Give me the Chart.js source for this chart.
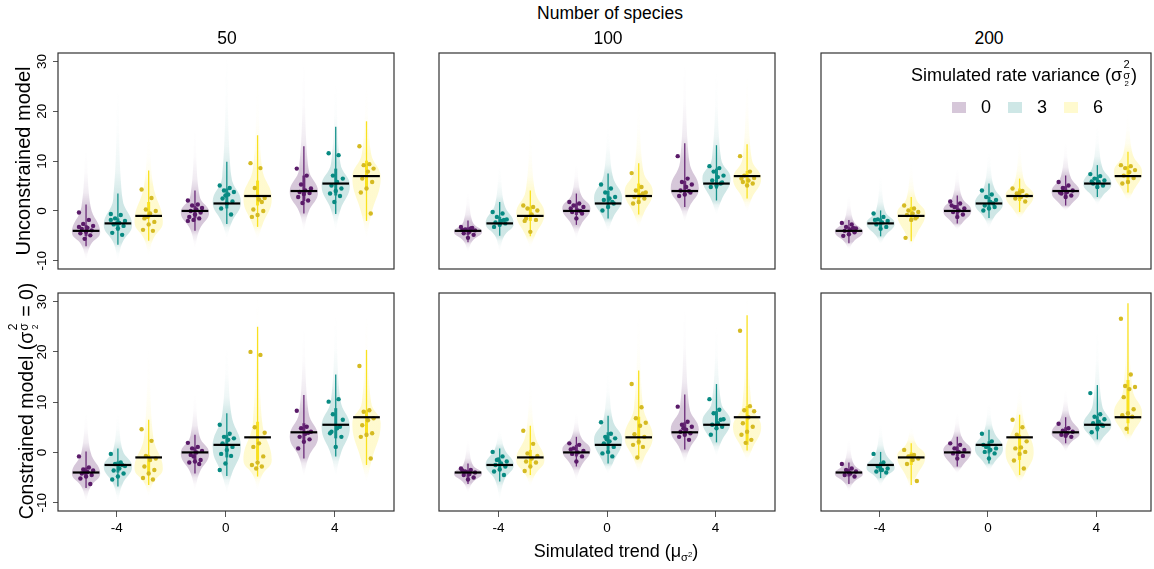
<!DOCTYPE html>
<html>
<head>
<meta charset="utf-8">
<script src="https://cdn.jsdelivr.net/npm/chart.js@4.4.1/dist/chart.umd.min.js"></script>
<style>
  body { margin: 0; background: #fff; overflow: hidden; }
  #wrap { position: relative; width: 1154px; height: 569px; overflow: hidden;
          font-family: "Liberation Sans", Arial, sans-serif; color: #000; }
  #wrap canvas { position: absolute; }
  .t { position: absolute; white-space: nowrap; transform: translate(-50%, -50%); line-height: 1.15; }
  .rot { transform: translate(-50%, -50%) rotate(-90deg); }
  .stk { display: inline-block; vertical-align: -0.4em; font-size: 0.62em; line-height: 0.95; text-align: center; margin: 0 1px; }
  .stk span { display: block; }
  .tiny { font-size: 0.7em; vertical-align: 0.45em; }
  .sub { font-size: 0.62em; vertical-align: -0.35em; }
  .sq { position: absolute; width: 14px; height: 11px; }
</style>
</head>
<body>
<div id="wrap">
  <div class="t" style="left:610px;top:13px;font-size:17.5px">Number of species</div>
  <div id="heads"></div>
  <div class="t rot" style="left:23px;top:161px;font-size:20px">Unconstrained model</div>
  <div class="t rot" style="left:23px;top:401px;font-size:19.5px">Constrained model (σ<span class="stk"><span>2</span><span>σ<span class="tiny">2</span></span></span> = 0)</div>
  <div class="t" style="left:616px;top:552px;font-size:18px">Simulated trend (μ<span class="sub">σ<span class="tiny">2</span></span>)</div>
</div>
<script>
// what the plot shows
const speciesCounts = [50, 100, 200];
const trends = [-4, 0, 4];
const variances = [0, 3, 6];
const trueValues = [-4, -2.5, -1, 0, 1.5, 3, 4, 5.5, 7];
const yTicks = [-10, 0, 10, 20, 30];

// violins, in order (-4: 0,3,6), (0: 0,3,6), (4: 0,3,6)
// [tail low, body low, mode, body high, tail high]
const u50Violin = [
  [-9.8, -6.8, -4.3, 0.8, 12.4], [-9.8, -6.3, -2.8, 2.4, 25], [-9, -5.6, -2.2, 5, 15],
  [-7.5, -3.7, -0.3, 3, 16.4], [-5.5, -2.4, 1.8, 6.8, 31.7], [-5.8, -2.9, 2.5, 8.5, 25],
  [-4, -0.2, 3.8, 8.5, 30], [-4, 0.2, 5.1, 9.6, 26], [-5.5, -0.8, 6.8, 11.5, 25]
];
const c50Violin = [
  [-9.8, -6.8, -4.2, 0, 7.8], [-9.8, -6.3, -2.8, 0.5, 7.8], [-8.8, -6, -3.2, 3, 21],
  [-7.5, -4, -0.2, 3.2, 11.8], [-8, -4.5, 1.1, 7.5, 21], [-7.5, -4.5, -1.5, 6, 31.7],
  [-4.8, -1, 3.1, 8, 25], [-4.8, -0.5, 5.1, 10.5, 27.7], [-6, -2, 5.8, 10, 27.7]
];
const u100Violin = [
  [-8.2, -6, -4.2, -2.2, 3.8], [-8.2, -5, -2.5, 1.3, 9.1], [-7.5, -5, -0.5, 4, 16.4],
  [-5.5, -2.8, 0.5, 3.3, 9.4], [-4.2, -1.5, 2.5, 7, 17], [-3.5, -0.7, 3.8, 8, 22.4],
  [-2.2, 0.8, 4.5, 10, 30], [-0.8, 2, 6.5, 10.5, 28.4], [-0.2, 2.5, 6.5, 10.5, 27.7]
];
const c100Violin = [
  [-8, -6, -4.2, -2.4, 2.5], [-9.5, -5.5, -2.5, 0.8, 4.5], [-6.8, -4.5, -1.5, 3.5, 13.7],
  [-5.5, -2.8, 0.5, 3.1, 7.8], [-4.2, -2.2, 2.5, 6.5, 15.8], [-4.2, -1.5, 3.1, 9, 28.4],
  [-2.2, 0.6, 4.5, 9, 29], [-0.8, 2, 6.2, 10, 25.7], [-1.8, 0.5, 5.1, 9.5, 31.7]
];
const u200Violin = [
  [-7.8, -6.2, -4.2, -2, 3.1], [-6.8, -5, -2.5, 0, 7.1], [-7.5, -5, -0.5, 2.6, 9.8],
  [-3.8, -2.5, 0.1, 2.8, 8.5], [-3.5, -1.4, 1.5, 5, 11.8], [-1.8, -0.2, 3.1, 6, 14.4],
  [0, 1.1, 3.8, 7, 13.8], [1.2, 2.8, 5.5, 9, 17], [1.8, 3.7, 7.8, 11.5, 19.7]
];
const c200Violin = [
  [-7.8, -6, -4.2, -2.2, 2.5], [-6.8, -5, -3, 0, 5.8], [-7.8, -5, -0.8, 1.8, 5.1],
  [-4.2, -2.8, 0.3, 3, 7.8], [-3.8, -2.2, 0.8, 4.3, 9.8], [-6.2, -4.5, 0.1, 6, 13.1],
  [0.1, 1.8, 3.8, 7, 12.4], [0.8, 2.6, 5.5, 9.5, 24.4], [1.8, 3.7, 7.8, 12.5, 31.7]
];

// intervals: [outer low, inner low, inner high, outer high]
const u50Whisker = [
  [-7.1, -5, -2.8, 1.3], [-6.8, -4, -1.5, 3.5], [-6, -1.5, 1.8, 8.1],
  [-4, -1.5, 1, 4.1], [-2.6, 0.5, 4.5, 9.9], [-3.2, 1.1, 6.1, 15.2],
  [-0.5, 2, 7.1, 13], [-0.6, 3.1, 8.5, 16.9], [-2, 4.5, 10.1, 18]
];
const c50Whisker = [
  [-7.1, -5, -3, 0.2], [-6.8, -4, -1.8, 0.8], [-6.5, -4.5, -0.5, 6.5],
  [-4.2, -1.5, 1, 3.5], [-4.7, -1, 3.5, 7.8], [-4.8, -1.5, 6.1, 25],
  [-1.2, 2.2, 5.8, 11.4], [-0.8, 2.8, 8.8, 15.5], [-2.5, 3.1, 8.4, 20.4]
];
const u100Whisker = [
  [-6.3, -4.8, -3.3, -1.9], [-5, -3.2, -1.2, 1.8], [-5.1, -2, 0.8, 4.1],
  [-2.8, -0.8, 1.5, 3.5], [-1.5, 0.8, 4, 7.5], [-0.7, 2, 5.5, 9.6],
  [0.8, 3.3, 6, 13.6], [2.1, 4.5, 8.5, 13.2], [2.5, 5, 8, 13.4]
];
const c100Whisker = [
  [-6.3, -5, -3.5, -2.2], [-5.8, -3.5, -1.5, 0.8], [-4.5, -2.5, 0.5, 5.3],
  [-2.8, -0.8, 1.5, 3.1], [-2.2, 0.5, 4, 7.3], [-1.2, 1.5, 7.1, 16.3],
  [0.6, 3.3, 6, 11.5], [2, 4.5, 8.2, 13.6], [0.4, 1.5, 9.2, 27.3]
];
const u200Whisker = [
  [-6.5, -4.8, -3.2, -1.8], [-5.1, -3.3, -1.5, 0.1], [-6.1, -2, 0.8, 2.8],
  [-2.5, -0.8, 1.2, 3.1], [-1.4, 0.3, 2.8, 5.5], [-0.2, 2, 4.5, 6.5],
  [1.1, 3, 5, 7.1], [2.8, 4.5, 6.8, 9.2], [3.7, 5.8, 9, 11.9]
];
const c200Whisker = [
  [-6.3, -4.8, -3.3, -2], [-5.1, -3.8, -2, 0.1], [-6.5, -2.5, 0, 1.8],
  [-2.8, -0.8, 1.2, 3.1], [-2.2, -0.2, 2.2, 4.5], [-4.5, -1.5, 3.5, 7.5],
  [1.8, 3.2, 5, 7], [2.6, 4.2, 7.2, 13.4], [3.7, 5.8, 14.4, 29.7]
];

// estimates shown as dots
const u50Points = [
  [-0.3, -1.8, -2.6, -3.0, -3.4, -3.6, -3.9, -4.2, -4.5, -4.9, -5.6, -3.2],
  [-0.6, -0.8, -1.5, -2.0, -2.4, -2.7, -3.0, -3.5, -4.4, -4.8, -2.5, -1.8],
  [4.3, 2.6, 0.3, 0, -0.5, -1.5, -2.2, -2.7, -3.8, -4.0, -1.2],
  [2.1, 1.3, 1.1, 0.6, 0.3, 0, -0.3, -0.7, -1.2, -1.5, -1.8, -2.0],
  [5.1, 4.6, 4.1, 3.8, 3.3, 2.5, 1.9, 1.5, 0.5, -0.7, 3.1],
  [9.6, 8.6, 4.6, 2.6, 2.3, 0.3, 0, -0.8, -1.2, 1.8],
  [8.5, 7.1, 5.3, 4.5, 4.1, 3.8, 3.6, 3.4, 2.8, 2.1, 1.6],
  [11.6, 11.2, 7.1, 6.5, 5.8, 5.1, 4.5, 4.0, 3.5, 3.0, 1.8],
  [13, 9.4, 9.2, 8.5, 7.9, 6.5, 5.8, 4.5, 3.7, -0.5]
];
const c50Points = [
  [-0.8, -3, -3.4, -3.6, -3.9, -4.2, -4.5, -4.8, -5.2, -6.3, -4],
  [-0.3, -2, -2.3, -2.7, -3.2, -3.6, -4.2, -4.8, -5.4, -2.5],
  [4.6, 2.3, -0.7, -1.2, -1.5, -2.8, -3.5, -4.2, -5.1, -5.4],
  [1.9, 1.1, 0.8, 0.3, 0, -0.5, -1.5, -1.8, -2, -2.3, -0.8],
  [5.5, 3.7, 3.1, 2.8, 2.5, 1.8, 1.1, 0.5, -0.3, -0.7, -2.2, -3.5],
  [20, 19.4, 5, 3.9, 1.8, 1.1, -0.8, -2, -2.5, -2.8, -3.2],
  [8.3, 5.1, 4.8, 4.1, 3.7, 3.1, 2.6, 2.1, 0.8, 3.9],
  [10.1, 10.6, 7.6, 6.5, 4.8, 4.1, 3.1, 1.1, 3.8, 5.1],
  [17.2, 8.4, 8.1, 6.8, 6.4, 5.4, 3.8, 3.5, 3.1, -1.2]
];
const u100Points = [
  [-3.2, -3.5, -3.7, -3.9, -4.2, -4.5, -4.8, -5.4, -3.8, -3.4],
  [-0.2, -0.5, -1.2, -1.7, -2, -2.3, -2.5, -2.7, -3.2, -1.8],
  [1.1, 0.8, 0.5, 0.1, -0.7, -1.5, -1.8, -4.2, -2],
  [1.8, 1.5, 1.1, 0.8, 0.1, -0.2, -0.5, -1.5, 0.5, 0],
  [5.3, 4.5, 3.7, 2.8, 2.5, 2.2, 1.5, 0.8, 0.1, 1.8],
  [7.6, 4.8, 4.1, 3.7, 3.1, 2.8, 2.5, 1.8, 1.5, 3.5],
  [11, 6.5, 5.8, 5.3, 4.8, 4.1, 3.7, 3.3, 3, 4],
  [9, 8.6, 7.9, 7.1, 6.8, 6.1, 5.7, 5.1, 4.8, 5.5],
  [11, 7.9, 7.1, 6.6, 6.1, 5.8, 5.5, 5.1, 6.5]
];
const c100Points = [
  [-3.2, -3.5, -3.8, -4, -4.3, -4.5, -5, -5.4, -3.6],
  [0.1, -0.8, -1.5, -1.8, -2.2, -2.5, -2.8, -3.4, -3.8, -4.5, -1.4],
  [4.3, 1.7, -0.2, -0.7, -1.2, -1.8, -2, -2.8, -3.7],
  [1.8, 1.5, 0.8, 0.3, 0, -0.3, -0.8, -1.8, 0.6],
  [6, 3.7, 3.1, 2.8, 2.2, 1.8, 1.1, 0.1, -0.2, -0.8, 2.6],
  [13.6, 9, 6.8, 5.9, 5.3, 3.6, 3.1, 2.1, 1.5, 1.1, -1],
  [9.1, 6.1, 5.5, 5.1, 4.5, 4.1, 3.8, 3.5, 3.1, 2.5, 4.8],
  [10.6, 8.5, 7.8, 6.6, 5.8, 5.5, 5.1, 4.8, 3.5, 6.5],
  [24.2, 9.2, 8.4, 8.2, 7, 5.8, 5.1, 4.1, 3.5, 2.5, 1.9]
];
const u200Points = [
  [-2.4, -2.7, -3.2, -3.5, -3.8, -4, -4.3, -4.7, -5, -3.4],
  [-0.5, -1.2, -1.7, -2, -2.3, -2.7, -3.2, -3.6, -1.8],
  [1.1, 0.5, 0.1, -0.2, -0.5, -0.8, -1.2, -1.8, -5.4, -1.5],
  [1.9, 1.5, 0.8, 0.5, 0.1, -0.2, -0.7, -1.2, 1.1],
  [4.1, 3.3, 2.8, 2.2, 1.8, 1.1, 0.8, 0.5, 0.1, 1.5],
  [4.5, 4, 3.5, 3.1, 2.8, 2.5, 1.9, 3.7],
  [5.8, 5.1, 4.6, 4.1, 3.8, 3.5, 3.1, 2.8, 3.7],
  [7.4, 7, 6.5, 6.1, 5.8, 5.5, 5.1, 4.8, 5.9],
  [9.2, 9, 8.6, 8.2, 7.8, 7.1, 6.6, 5.8, 5.5]
];
const c200Points = [
  [-2.3, -3.2, -3.5, -3.8, -4.2, -4.5, -4.8, -4],
  [-0.3, -2, -2.8, -3.2, -3.5, -3.8, -4, -3.4],
  [0.5, -0.5, -0.8, -1.2, -1.5, -2.3, -5.7, -0.7],
  [1.8, 1.5, 0.8, 0.5, 0.1, -0.2, -0.7, -1.2],
  [3.7, 2.2, 1.1, 0.8, 0.5, 0.1, -0.2, -1.2, 1.5],
  [6.5, 5, 3.5, 2.2, 1, 0.8, 0.1, -0.3, -1.6, -3.2],
  [5.7, 4.8, 4.3, 4.1, 3.8, 3.5, 3.1, 3.3],
  [11.8, 7.6, 7.1, 6.6, 6.1, 5.8, 5.3, 4.8, 4, 5.5],
  [26.6, 15.5, 13.2, 13, 12.6, 11, 8.6, 7.8, 7.4, 7.1, 4.7]
];

const panels = [
  { violin: u50Violin, whisker: u50Whisker, points: u50Points },
  { violin: u100Violin, whisker: u100Whisker, points: u100Points },
  { violin: u200Violin, whisker: u200Whisker, points: u200Points },
  { violin: c50Violin, whisker: c50Whisker, points: c50Points },
  { violin: c100Violin, whisker: c100Whisker, points: c100Points },
  { violin: c200Violin, whisker: c200Whisker, points: c200Points }
];

// look
const FILL = [[68, 1, 84], [33, 144, 140], [253, 231, 37]];
const LINE = ["#6a2a78", "#14928b", "#f9e11e"];
const DOT = ["#5a1a69", "#078a82", "#d5ba22"];
const ALPHA = 0.22;
const OFFS = [-1.13, 0.04, 1.17];
const HALF = 0.52, NECK = 0.17, BAR = 0.49;
const COLS = [[58, 396], [439, 777], [821, 1153]];
const XLIM = [[-6.16, 6.18], [-6.2, 6.2], [-6.16, 6.02]];
const ROWS = [[53, 271], [293, 511]];
const wrap = document.getElementById("wrap");

const rgba = (c, a) => `rgba(${c[0]},${c[1]},${c[2]},${a})`;
const jit = (i) => (((i * 7) % 11) / 10 - 0.5) * 0.52;

function violinFill(ctx) {
  const ds = ctx.dataset;
  const y = ctx.chart.scales.y;
  if (!ds || !ds.spec || !y) return "transparent";
  const [tLo, bLo, m, bHi, tHi] = ds.spec;
  const c = ds.rgb;
  const top = y.getPixelForValue(tHi), bot = y.getPixelForValue(tLo);
  if (!isFinite(top) || !isFinite(bot) || bot - top < 1) return rgba(c, ALPHA);
  const g = ctx.chart.ctx.createLinearGradient(0, top, 0, bot);
  const f = (v) => Math.min(1, Math.max(0, (tHi - v) / (tHi - tLo)));
  g.addColorStop(0, rgba(c, 0));
  g.addColorStop(f(bHi + 0.6 * (tHi - bHi)), rgba(c, ALPHA * 0.08));
  g.addColorStop(f(bHi + 0.25 * (tHi - bHi)), rgba(c, ALPHA * 0.35));
  g.addColorStop(f(bHi), rgba(c, ALPHA));
  g.addColorStop(f(bLo), rgba(c, ALPHA));
  g.addColorStop(f(bLo - 0.3 * (bLo - tLo)), rgba(c, ALPHA * 0.4));
  g.addColorStop(f(bLo - 0.65 * (bLo - tLo)), rgba(c, ALPHA * 0.1));
  g.addColorStop(1, rgba(c, 0));
  return g;
}

const boxPlugin = {
  id: "box",
  afterDatasetsDraw(chart) {
    const { ctx, chartArea: a } = chart;
    ctx.save();
    ctx.strokeStyle = "#333";
    ctx.lineWidth = 1.2;
    ctx.strokeRect(a.left, a.top, a.right - a.left, a.bottom - a.top);
    ctx.restore();
  }
};

function buildPanel(idx) {
  const row = Math.floor(idx / 3), col = idx % 3;
  const p = panels[idx];
  const [L, R] = COLS[col], [T, B] = ROWS[row];
  const under = row ? 34 : 2;
  const cv = document.createElement("canvas");
  cv.width = R - L + 52;
  cv.height = B - T + 4 + under;
  cv.style.left = (L - 50) + "px";
  cv.style.top = (T - 4) + "px";
  wrap.insertBefore(cv, wrap.firstChild);

  const datasets = [];
  for (let k = 0; k < 9; k++) {
    const g = Math.floor(k / 3), v = k % 3;
    const cx = trends[g] + OFFS[v];
    const [tLo, bLo, m, bHi, tHi] = p.violin[k];
    datasets.push({
      data: [
        { x: cx, y: tLo }, { x: cx + NECK, y: bLo }, { x: cx + HALF, y: m }, { x: cx + NECK, y: bHi },
        { x: cx, y: tHi }, { x: cx - NECK, y: bHi }, { x: cx - HALF, y: m }, { x: cx - NECK, y: bLo },
        { x: cx, y: tLo }
      ],
      spec: p.violin[k], rgb: FILL[v],
      showLine: true, fill: "shape", tension: 0.45,
      borderWidth: 0, borderColor: "rgba(0,0,0,0)", backgroundColor: violinFill,
      pointRadius: 0, order: 5
    });
    const [oLo, iLo, iHi, oHi] = p.whisker[k];
    datasets.push({ data: [{ x: cx, y: oLo }, { x: cx, y: oHi }], showLine: true,
      borderColor: LINE[v], borderWidth: 1.3, pointRadius: 0, order: 4 });
    datasets.push({ data: [{ x: cx, y: iLo }, { x: cx, y: iHi }], showLine: true,
      borderColor: LINE[v], borderWidth: 3, pointRadius: 0, order: 4 });
    datasets.push({ data: p.points[k].map((y, i) => ({ x: cx + jit(i), y })),
      pointRadius: 2.2, pointBorderWidth: 0, backgroundColor: DOT[v], borderColor: DOT[v], order: 3 });
    datasets.push({ data: [{ x: cx - BAR, y: trueValues[k] }, { x: cx + BAR, y: trueValues[k] }],
      showLine: true, borderColor: "#000", borderWidth: 2.2, pointRadius: 0, order: 2 });
  }

  new Chart(cv, {
    type: "scatter",
    data: { datasets },
    options: {
      responsive: false,
      animation: false,
      events: [],
      layout: { padding: { top: 4, right: 2, left: 0, bottom: 0 } },
      plugins: { legend: { display: false }, tooltip: { enabled: false } },
      scales: {
        x: {
          type: "linear", min: XLIM[col][0], max: XLIM[col][1],
          afterBuildTicks: (s) => { s.ticks = trends.map((value) => ({ value })); },
          afterFit: (s) => { s.height = under; s.paddingLeft = 0; s.paddingRight = 0; },
          grid: { display: row === 1, drawOnChartArea: false, drawTicks: true, tickLength: 6, color: "#555" },
          border: { display: false },
          ticks: { display: row === 1, color: "#000", padding: 3,
            font: { family: "'Liberation Sans', Arial, sans-serif", size: 13.5 } }
        },
        y: {
          type: "linear", min: -11.66, max: 31.72,
          afterBuildTicks: (s) => { s.ticks = yTicks.map((value) => ({ value })); },
          afterFit: (s) => { s.width = 50; s.paddingTop = 0; s.paddingBottom = 0; },
          grid: { display: col === 0, drawOnChartArea: false, drawTicks: true, tickLength: 5, color: "#555" },
          border: { display: false },
          ticks: { display: col === 0, color: "#000", padding: 1, minRotation: 90, maxRotation: 90,
            crossAlign: "center", font: { family: "'Liberation Sans', Arial, sans-serif", size: 13.5 } }
        }
      }
    },
    plugins: [boxPlugin]
  });
}

panels.forEach((_, i) => buildPanel(i));

// column headers and legend
const heads = document.getElementById("heads");
speciesCounts.forEach((n, i) => {
  const d = document.createElement("div");
  d.className = "t";
  d.style.cssText = `left:${(COLS[i][0] + COLS[i][1]) / 2 + (i === 2 ? 2 : 0)}px;top:38px;font-size:17.5px`;
  d.textContent = n;
  heads.appendChild(d);
});
const lt = document.createElement("div");
lt.className = "t";
lt.style.cssText = "left:1024px;top:73px;font-size:18px";
lt.innerHTML = 'Simulated rate variance (σ<span class="stk"><span>2</span><span>σ<span class="tiny">2</span></span></span>)';
heads.appendChild(lt);
variances.forEach((v, i) => {
  const sq = document.createElement("div");
  sq.className = "sq";
  sq.style.cssText = `left:${952 + i * 56}px;top:102px;background:${rgba(FILL[i], ALPHA)}`;
  heads.appendChild(sq);
  const lab = document.createElement("div");
  lab.className = "t";
  lab.style.cssText = `left:${986 + i * 56}px;top:107px;font-size:18px`;
  lab.textContent = v;
  heads.appendChild(lab);
});
</script>
</body>
</html>
